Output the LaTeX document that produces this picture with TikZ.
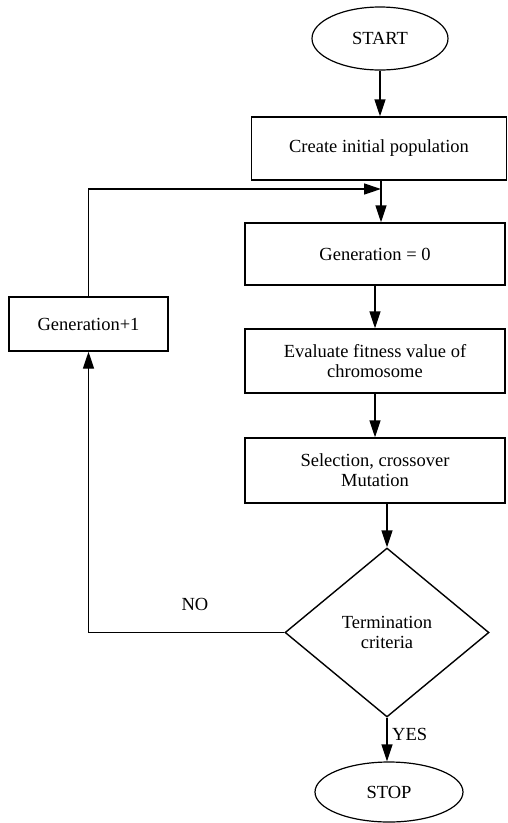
\documentclass[tikz,border=0pt]{standalone}
\usepackage{fontspec}
\setmainfont{Liberation Serif}
\usetikzlibrary{shapes.geometric,arrows.meta}
\begin{document}
\begin{tikzpicture}[x=1pt,y=-1pt,
  every node/.style={font=\fontsize{18.5}{20}\selectfont, align=center, inner sep=0pt},
  procbox/.style={draw, line width=1.4pt, rectangle},
  term/.style={draw, line width=1.2pt, ellipse},
  decide/.style={draw, line width=1.4pt, diamond, aspect=1.2},
  flow/.style={line width=1.4pt, -{Triangle[length=17pt,width=11pt]}},
  plain/.style={line width=1.4pt}]
\useasboundingbox (0,0) rectangle (508,823);
\node[term, minimum width=136pt, minimum height=63pt] (start) at (380,38.5) {START};
\node[procbox, minimum width=255pt, minimum height=63pt] (create) at (379,148.5) {Create initial population};
\node[procbox, minimum width=260pt, minimum height=62pt] (gen0) at (375,254) {Generation = 0};
\node[procbox, minimum width=260pt, minimum height=64pt] (eval) at (375,361) {Evaluate fitness value of\\chromosome};
\node[procbox, minimum width=260pt, minimum height=65pt] (sel) at (375,470.5) {Selection, crossover\\Mutation};
\node[decide, minimum width=204pt, minimum height=169pt] (term) at (387,632.5) {Termination\\criteria};
\node[term, minimum width=148pt, minimum height=60pt] (stop) at (389,792) {STOP};
\node[procbox, minimum width=159pt, minimum height=54pt] (gen1) at (88.5,324) {Generation+1};
\node (no) at (195,604) {NO};
\node[anchor=west] (yes) at (392,734) {YES};

\coordinate (join) at (381,189);
\draw[flow] (start.south) -- (start.south |- create.north);
\draw[flow] (create.south -| join) -- (gen0.north -| join);
\draw[flow] (gen0.south) -- (eval.north);
\draw[flow] (eval.south) -- (sel.north);
\draw[flow] (sel.south -| term.north) -- (term.north);
\draw[flow] (term.south) -- (term.south |- stop.north);
\draw[flow] (term.west) -| (gen1.south);
\draw[flow] (gen1.north) |- (join);
\end{tikzpicture}
\end{document}
